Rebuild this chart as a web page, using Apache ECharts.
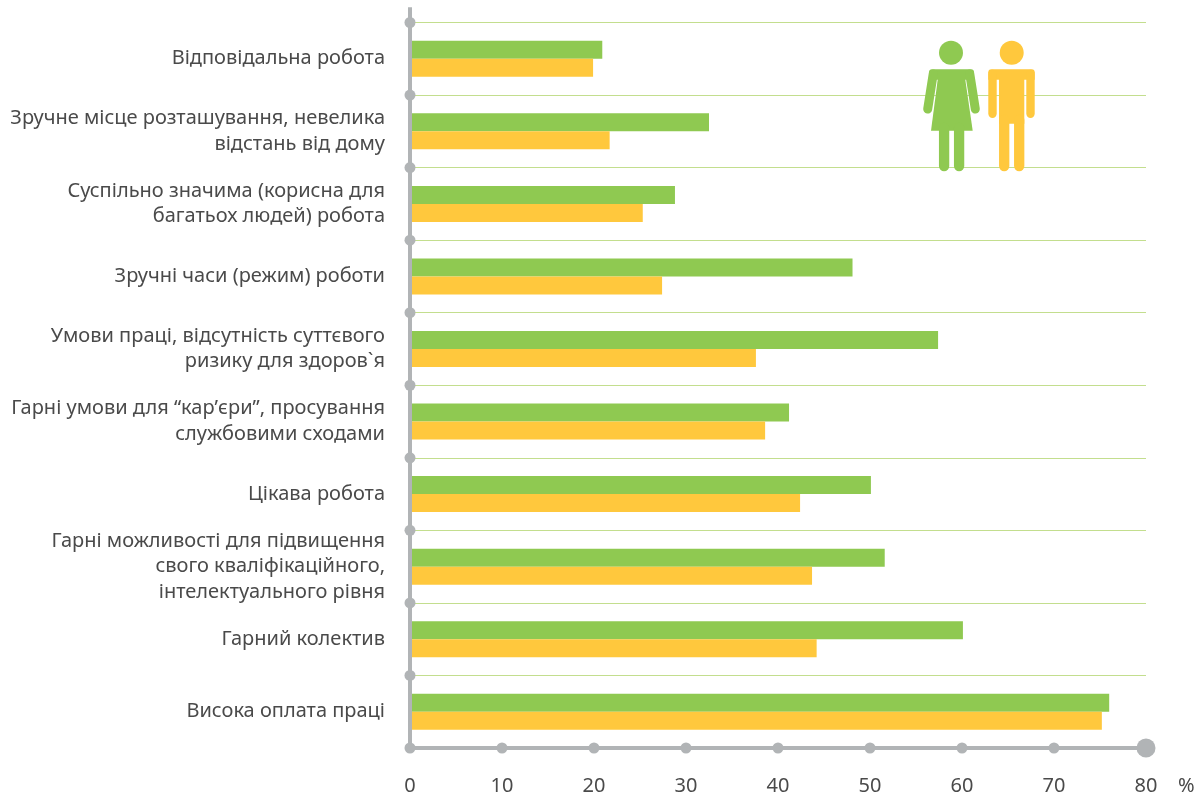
<!DOCTYPE html>
<html><head><meta charset="utf-8">
<style>html,body{margin:0;padding:0;background:#fff}#c{width:1197px;height:797px}</style>
<script src="https://cdn.jsdelivr.net/npm/echarts@6/dist/echarts.min.js"></script></head>
<body><div id="c"></div>
<script>
const categories = [
  'Відповідальна робота',
  'Зручне місце розташування, невелика\nвідстань від дому',
  'Суспільно значима (корисна для\nбагатьох людей) робота',
  'Зручні часи (режим) роботи',
  'Умови праці, відсутність суттєвого\nризику для здоров`я',
  'Гарні умови для “кар’єри”, просування\nслужбовими сходами',
  'Цікава робота',
  'Гарні можливості для підвищення\nсвого кваліфікаційного,\nінтелектуального рівня',
  'Гарний колектив',
  'Висока оплата праці'
];
const women = [20.9, 32.5, 28.8, 48.1, 57.4, 41.2, 50.1, 51.6, 60.1, 76.0];
const men   = [19.9, 21.7, 25.3, 27.4, 37.6, 38.6, 42.4, 43.7, 44.2, 75.2];
const xTicks = [0, 10, 20, 30, 40, 50, 60, 70];
const xEnd = 80;
const rowEdges = [0, 1, 2, 3, 4, 5, 6, 7, 8, 9];

const GREEN = '#8fc951', YELLOW = '#ffc83d', GRAY = '#b1b4b6', GRID = '#c3de8e', TEXT = '#4a4a4a';
const FONT = '"Noto Sans", sans-serif';
const chart = echarts.init(document.getElementById('c'), null, {renderer: 'canvas'});

function limb(x1, y1, x2, y2, color, w) {
  return {type: 'line', shape: {x1, y1, x2, y2}, silent: true, z: 5,
    style: {stroke: color, lineWidth: w, lineCap: 'round'}};
}
const pictograms = [
  {type: 'circle', shape: {cx: 951, cy: 52.7, r: 12}, style: {fill: GREEN}, silent: true, z: 5},
  {type: 'rect', shape: {x: 929, y: 69.3, width: 45, height: 10.5, r: [3, 3, 0, 0]}, style: {fill: GREEN}, silent: true, z: 5},
  {type: 'polygon', shape: {points: [[937.8, 79], [965.2, 79], [972.7, 130.7], [931, 130.7]]}, style: {fill: GREEN}, silent: true, z: 5},
  limb(933.2, 74, 927.7, 109, GREEN, 9),
  limb(969.8, 74, 975.3, 109, GREEN, 9),
  limb(944.1, 128, 944.1, 166, GREEN, 10.3),
  limb(959.1, 128, 959.1, 166, GREEN, 10.3),

  {type: 'circle', shape: {cx: 1011.7, cy: 52.7, r: 12}, style: {fill: YELLOW}, silent: true, z: 5},
  {type: 'rect', shape: {x: 988.3, y: 69.3, width: 46.4, height: 10.5, r: [3, 3, 0, 0]}, style: {fill: YELLOW}, silent: true, z: 5},
  {type: 'rect', shape: {x: 999, y: 78, width: 25.3, height: 45.7}, style: {fill: YELLOW}, silent: true, z: 5},
  limb(992.5, 74, 992.5, 113.7, YELLOW, 8.4),
  limb(1030.5, 74, 1030.5, 113.7, YELLOW, 8.4),
  limb(1004.2, 120, 1004.2, 166, YELLOW, 10.3),
  limb(1019.2, 120, 1019.2, 166, YELLOW, 10.3),

  {type: 'text', x: 1178, y: 776, silent: true,
    style: {text: '%', font: '20px ' + FONT, fill: TEXT}}
];

const dotStyle = {color: GRAY, opacity: 1};
chart.setOption({
  animation: false,
  backgroundColor: '#fff',
  grid: {left: 410, right: 51, top: 22.5, bottom: 49, containLabel: false},
  xAxis: {
    type: 'value', min: 0, max: xEnd, interval: 10,
    axisLine: {show: false}, axisTick: {show: false}, splitLine: {show: false},
    axisLabel: {color: TEXT, fontFamily: FONT, fontSize: 20, margin: 28}
  },
  yAxis: [{
    type: 'category', inverse: true, data: categories,
    axisLine: {show: false}, axisTick: {show: false},
    splitLine: {show: true, interval: 0, lineStyle: {color: GRID, width: 1}},
    axisLabel: {color: TEXT, fontFamily: FONT, fontSize: 20, lineHeight: 25.5, margin: 25, align: 'right', interval: 0}
  }, {
    type: 'value', inverse: true, min: 0, max: 10, show: false
  }],
  series: [
    {type: 'bar', name: 'Жінки', data: women, barWidth: 18, barGap: '0%', itemStyle: {color: GREEN}, silent: true, z: 2},
    {type: 'bar', name: 'Чоловіки', data: men, barWidth: 18, barGap: '0%', itemStyle: {color: YELLOW}, silent: true, z: 2},
    {type: 'line', yAxisIndex: 1, data: [[0, -0.21], [0, 10]], showSymbol: false, clip: false, silent: true, z: 6,
      lineStyle: {color: GRAY, width: 4}},
    {type: 'line', yAxisIndex: 1, data: [[0, 10], [xEnd, 10]], showSymbol: false, clip: false, silent: true, z: 6,
      lineStyle: {color: GRAY, width: 4}},
    {type: 'scatter', yAxisIndex: 1, data: rowEdges.map(r => [0, r]), symbolSize: 11, clip: false, silent: true, z: 7, itemStyle: dotStyle},
    {type: 'scatter', yAxisIndex: 1, data: xTicks.map(v => [v, 10]), symbolSize: 11, clip: false, silent: true, z: 7, itemStyle: dotStyle},
    {type: 'scatter', yAxisIndex: 1, data: [[xEnd, 10]], symbolSize: 19, clip: false, silent: true, z: 7, itemStyle: dotStyle}
  ],
  graphic: pictograms
});
</script></body></html>
